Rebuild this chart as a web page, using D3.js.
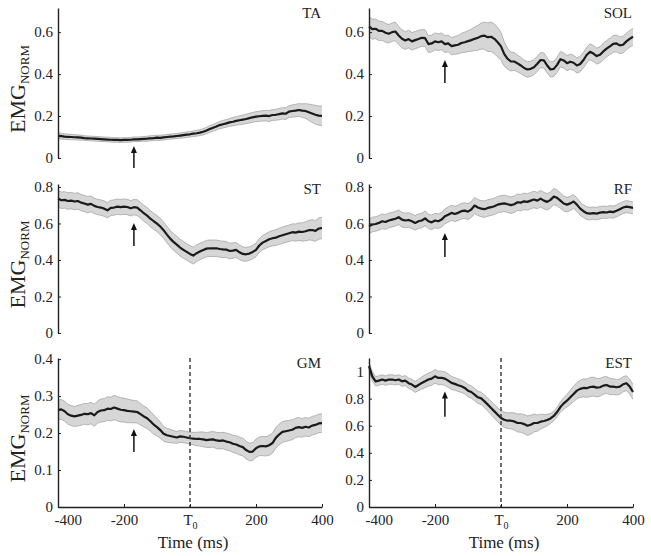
<!DOCTYPE html>
<html><head><meta charset="utf-8">
<script src="https://cdn.jsdelivr.net/npm/d3@7"></script>
<style>
body{margin:0;background:#fff}
svg{display:block}
text{font-family:"Liberation Serif","Times New Roman",serif;fill:#222}
</style>
</head><body><svg id="chart" width="651" height="556"></svg>
<script>
// ---------------- DATA ----------------
const timeMs = [-400,-390,-380,-370,-360,-350,-340,-330,-320,-310,
  -300,-290,-280,-270,-260,-250,-240,-230,-220,-210,
  -200,-190,-180,-170,-160,-150,-140,-130,-120,-110,
  -100,-90,-80,-70,-60,-50,-40,-30,-20,-10,
  0,10,20,30,40,50,60,70,80,90,
  100,110,120,130,140,150,160,170,180,190,
  200,210,220,230,240,250,260,270,280,290,
  300,310,320,330,340,350,360,370,380,390,400];

const muscles = ["TA","SOL","ST","RF","GM","EST"];

const taMean = [0.105,0.104,0.102,0.101,0.100,0.099,0.098,0.097,0.095,0.094,
  0.093,0.092,0.091,0.090,0.089,0.088,0.087,0.086,0.086,0.085,
  0.086,0.086,0.087,0.089,0.089,0.090,0.091,0.092,0.094,0.095,
  0.097,0.096,0.098,0.100,0.102,0.103,0.105,0.107,0.109,0.111,
  0.113,0.116,0.118,0.121,0.125,0.131,0.138,0.144,0.150,0.157,
  0.161,0.165,0.170,0.173,0.177,0.180,0.183,0.186,0.190,0.194,
  0.197,0.199,0.201,0.202,0.200,0.205,0.206,0.209,0.213,0.211,
  0.221,0.224,0.226,0.229,0.226,0.224,0.218,0.212,0.206,0.202,0.201];
const taErr = [0.014,0.014,0.013,0.013,0.013,0.012,0.012,0.012,0.011,0.011,
  0.011,0.011,0.011,0.011,0.011,0.011,0.011,0.011,0.011,0.011,
  0.011,0.011,0.011,0.011,0.011,0.011,0.011,0.012,0.012,0.012,
  0.012,0.012,0.012,0.012,0.012,0.012,0.012,0.012,0.013,0.013,
  0.013,0.013,0.014,0.014,0.015,0.015,0.016,0.016,0.017,0.017,
  0.018,0.018,0.019,0.020,0.020,0.021,0.022,0.022,0.023,0.023,
  0.024,0.024,0.025,0.025,0.026,0.026,0.026,0.027,0.027,0.028,
  0.028,0.029,0.030,0.030,0.032,0.035,0.039,0.042,0.045,0.046,0.046];

const solMean = [0.627,0.614,0.616,0.606,0.606,0.597,0.592,0.600,0.603,0.584,
  0.568,0.560,0.567,0.556,0.562,0.567,0.573,0.571,0.543,0.546,
  0.556,0.552,0.556,0.543,0.546,0.533,0.537,0.540,0.548,0.552,
  0.557,0.562,0.568,0.573,0.581,0.583,0.576,0.578,0.568,0.552,
  0.532,0.495,0.473,0.460,0.460,0.451,0.441,0.429,0.422,0.425,
  0.433,0.449,0.467,0.465,0.441,0.422,0.425,0.444,0.471,0.465,
  0.452,0.459,0.454,0.441,0.448,0.467,0.492,0.506,0.498,0.486,
  0.492,0.508,0.521,0.532,0.544,0.546,0.537,0.540,0.556,0.568,0.578];
const solErr = [0.048,0.048,0.047,0.046,0.045,0.045,0.044,0.044,0.044,0.043,
  0.043,0.042,0.042,0.042,0.041,0.041,0.040,0.040,0.040,0.040,
  0.040,0.040,0.040,0.040,0.040,0.041,0.042,0.044,0.046,0.048,
  0.050,0.053,0.056,0.059,0.062,0.065,0.068,0.070,0.071,0.070,
  0.066,0.058,0.050,0.045,0.042,0.040,0.039,0.038,0.037,0.036,
  0.036,0.036,0.036,0.036,0.036,0.036,0.036,0.036,0.036,0.036,
  0.036,0.036,0.036,0.036,0.037,0.037,0.037,0.038,0.038,0.038,
  0.038,0.039,0.039,0.039,0.040,0.040,0.040,0.040,0.040,0.040,0.040];

const stMean = [0.736,0.727,0.729,0.723,0.725,0.720,0.723,0.714,0.709,0.703,
  0.707,0.696,0.690,0.687,0.681,0.672,0.685,0.687,0.692,0.689,
  0.692,0.690,0.683,0.689,0.687,0.672,0.656,0.643,0.626,0.612,
  0.599,0.583,0.563,0.539,0.517,0.499,0.484,0.468,0.455,0.444,
  0.433,0.424,0.437,0.446,0.455,0.462,0.464,0.464,0.464,0.460,
  0.458,0.457,0.449,0.451,0.455,0.442,0.433,0.431,0.435,0.444,
  0.455,0.479,0.495,0.504,0.513,0.519,0.522,0.530,0.535,0.541,
  0.546,0.552,0.550,0.555,0.553,0.557,0.563,0.564,0.559,0.572,0.575];
const stErr = [0.045,0.045,0.045,0.045,0.045,0.045,0.045,0.045,0.045,0.045,
  0.043,0.042,0.042,0.042,0.042,0.042,0.042,0.042,0.042,0.042,
  0.042,0.042,0.042,0.042,0.043,0.043,0.044,0.044,0.044,0.044,
  0.044,0.045,0.045,0.045,0.045,0.046,0.046,0.046,0.046,0.046,
  0.046,0.046,0.046,0.045,0.045,0.045,0.045,0.045,0.045,0.045,
  0.045,0.044,0.043,0.042,0.041,0.040,0.039,0.038,0.037,0.037,
  0.037,0.038,0.039,0.040,0.041,0.042,0.043,0.044,0.045,0.045,
  0.045,0.046,0.047,0.048,0.050,0.052,0.054,0.056,0.057,0.058,0.058];

const rfMean = [0.584,0.594,0.597,0.603,0.612,0.608,0.616,0.621,0.626,0.634,
  0.621,0.616,0.619,0.612,0.603,0.612,0.616,0.628,0.612,0.606,
  0.616,0.612,0.621,0.639,0.648,0.658,0.652,0.658,0.667,0.670,
  0.665,0.676,0.698,0.687,0.681,0.678,0.685,0.689,0.694,0.703,
  0.707,0.710,0.705,0.700,0.705,0.716,0.714,0.721,0.718,0.725,
  0.731,0.725,0.736,0.725,0.718,0.729,0.747,0.740,0.725,0.709,
  0.703,0.710,0.720,0.703,0.681,0.667,0.656,0.654,0.656,0.654,
  0.659,0.662,0.660,0.665,0.662,0.669,0.678,0.687,0.692,0.689,0.685];
const rfErr = [0.040,0.040,0.040,0.040,0.040,0.040,0.040,0.040,0.040,0.040,
  0.040,0.040,0.040,0.040,0.040,0.040,0.040,0.040,0.040,0.040,
  0.040,0.040,0.040,0.041,0.041,0.042,0.042,0.042,0.043,0.043,
  0.043,0.044,0.044,0.044,0.044,0.045,0.045,0.045,0.045,0.045,
  0.045,0.045,0.045,0.045,0.045,0.045,0.045,0.045,0.045,0.045,
  0.045,0.045,0.045,0.045,0.045,0.044,0.044,0.043,0.042,0.041,
  0.040,0.039,0.038,0.037,0.036,0.035,0.035,0.034,0.034,0.034,
  0.034,0.033,0.033,0.033,0.033,0.033,0.033,0.033,0.033,0.033,0.033];

const gmMean = [0.262,0.264,0.259,0.251,0.247,0.245,0.247,0.249,0.252,0.251,
  0.254,0.248,0.257,0.261,0.262,0.266,0.265,0.269,0.266,0.263,
  0.262,0.260,0.259,0.258,0.257,0.251,0.245,0.240,0.232,0.223,
  0.216,0.208,0.198,0.194,0.192,0.190,0.188,0.191,0.190,0.188,
  0.186,0.185,0.184,0.184,0.183,0.181,0.182,0.183,0.180,0.179,
  0.180,0.177,0.175,0.171,0.169,0.165,0.162,0.154,0.149,0.150,
  0.159,0.164,0.165,0.164,0.167,0.173,0.187,0.196,0.203,0.205,
  0.207,0.209,0.214,0.216,0.214,0.217,0.215,0.220,0.222,0.226,0.227];
const gmErr = [0.027,0.027,0.027,0.027,0.027,0.027,0.028,0.028,0.028,0.029,
  0.029,0.030,0.030,0.031,0.031,0.032,0.032,0.033,0.033,0.033,
  0.032,0.032,0.031,0.030,0.030,0.029,0.028,0.028,0.027,0.026,
  0.024,0.022,0.020,0.019,0.018,0.017,0.016,0.016,0.016,0.016,
  0.016,0.017,0.018,0.019,0.020,0.020,0.021,0.021,0.022,0.022,
  0.022,0.023,0.023,0.023,0.024,0.024,0.024,0.024,0.024,0.024,
  0.025,0.025,0.026,0.026,0.027,0.027,0.028,0.028,0.028,0.028,
  0.027,0.027,0.026,0.026,0.025,0.025,0.025,0.025,0.025,0.025,0.025];

const estMean = [1.040,0.965,0.928,0.933,0.941,0.933,0.941,0.941,0.936,0.941,
  0.928,0.933,0.914,0.904,0.886,0.901,0.916,0.928,0.941,0.948,
  0.965,0.953,0.953,0.948,0.933,0.916,0.909,0.899,0.891,0.879,
  0.859,0.849,0.830,0.810,0.802,0.780,0.756,0.731,0.706,0.681,
  0.657,0.644,0.637,0.637,0.632,0.620,0.620,0.612,0.600,0.607,
  0.620,0.620,0.630,0.635,0.642,0.654,0.672,0.701,0.738,0.765,
  0.785,0.810,0.835,0.859,0.872,0.879,0.877,0.886,0.889,0.881,
  0.884,0.896,0.901,0.889,0.889,0.884,0.889,0.906,0.914,0.889,0.849];
const estErr = [0.030,0.034,0.035,0.035,0.035,0.035,0.035,0.035,0.035,0.035,
  0.036,0.037,0.038,0.039,0.040,0.042,0.045,0.047,0.048,0.050,
  0.050,0.050,0.050,0.050,0.050,0.048,0.047,0.046,0.045,0.045,
  0.045,0.045,0.045,0.045,0.046,0.047,0.048,0.049,0.050,0.052,
  0.054,0.056,0.058,0.060,0.063,0.066,0.068,0.070,0.072,0.070,
  0.066,0.060,0.055,0.048,0.042,0.037,0.035,0.035,0.038,0.042,
  0.047,0.052,0.057,0.060,0.063,0.066,0.068,0.070,0.070,0.068,
  0.066,0.064,0.062,0.060,0.058,0.057,0.056,0.056,0.055,0.055,0.055];

const yTicksTop = [0, 0.2, 0.4, 0.6];
const yTicksMid = [0, 0.2, 0.4, 0.6, 0.8];
const yTicksGM = [0, 0.1, 0.2, 0.3, 0.4];
const yTicksEST = [0, 0.2, 0.4, 0.6, 0.8, 1];
const xTicks = [-400, -200, 0, 200, 400];
const xTickLabels = ["-400", "-200", "T0", "200", "400"];
const yLabel = ["EMG", "NORM"];
const xLabel = "Time (ms)";
const arrowTime = -170;

// ---------------- LAYOUT ----------------
const svg = d3.select("#chart");
const cols = [{x0: 58, x1: 322}, {x0: 369, x1: 633}];
const rows = [{bottom: 158, top: 8}, {bottom: 333, top: 184}, {bottom: 507, top: 358}];

const panels = [
  {name: muscles[0], mean: taMean, err: taErr, col: 0, row: 0, ymax: 0.715, ticks: yTicksTop, arrow: [-0.048, 0.057]},
  {name: muscles[1], mean: solMean, err: solErr, col: 1, row: 0, ymax: 0.715, ticks: yTicksTop, arrow: [0.357, 0.467]},
  {name: muscles[2], mean: stMean, err: stErr, col: 0, row: 1, ymax: 0.816, ticks: yTicksMid, arrow: [0.477, 0.603]},
  {name: muscles[3], mean: rfMean, err: rfErr, col: 1, row: 1, ymax: 0.816, ticks: yTicksMid, arrow: [0.416, 0.548]},
  {name: muscles[4], mean: gmMean, err: gmErr, col: 0, row: 2, ymax: 0.403, ticks: yTicksGM, arrow: [0.149, 0.211]},
  {name: muscles[5], mean: estMean, err: estErr, col: 1, row: 2, ymax: 1.1, ticks: yTicksEST, arrow: [0.667, 0.852]}
];

const fmt = v => v === 0 ? "0" : String(v);

panels.forEach(p => {
  const c = cols[p.col], r = rows[p.row];
  const x = d3.scaleLinear().domain([-400, 400]).range([c.x0, c.x1]);
  const y = d3.scaleLinear().domain([0, p.ymax]).range([r.bottom, r.top]);
  const g = svg.append("g");
  const data = timeMs.map((t, i) => ({t, m: p.mean[i], e: p.err[i]}));

  // band
  g.append("path").datum(data)
    .attr("d", d3.area().x(d => x(d.t)).y0(d => y(d.m - d.e)).y1(d => y(d.m + d.e)))
    .attr("fill", "#d6d6d6").attr("stroke", "none");
  g.append("path").datum(data)
    .attr("d", d3.line().x(d => x(d.t)).y(d => y(d.m + d.e)))
    .attr("fill", "none").attr("stroke", "#a6a6a6").attr("stroke-width", 0.8);
  g.append("path").datum(data)
    .attr("d", d3.line().x(d => x(d.t)).y(d => y(d.m - d.e)))
    .attr("fill", "none").attr("stroke", "#a6a6a6").attr("stroke-width", 0.8);
  // mean
  g.append("path").datum(data)
    .attr("d", d3.line().x(d => x(d.t)).y(d => y(d.m)))
    .attr("fill", "none").attr("stroke", "#1a1a1a").attr("stroke-width", 2.2)
    .attr("stroke-linejoin", "round");

  // dashed T0 line (bottom row)
  if (p.row === 2) {
    g.append("line")
      .attr("x1", x(0)).attr("x2", x(0))
      .attr("y1", r.top).attr("y2", r.bottom)
      .attr("stroke", "#333").attr("stroke-width", 1.4)
      .attr("stroke-dasharray", "4,3");
  }

  // y axis
  const ya = g.append("g").attr("transform", `translate(${c.x0},0)`)
    .call(d3.axisLeft(y).tickValues(p.ticks).tickFormat(fmt)
      .tickSizeInner(-3).tickSizeOuter(0).tickPadding(5));
  ya.select(".domain").attr("stroke", "#222").attr("stroke-width", 1.4);
  ya.selectAll(".tick line").attr("stroke", "#222").attr("stroke-width", 1);
  ya.selectAll("text").attr("font-size", 15).attr("font-family", "Liberation Serif").attr("fill", "#222");

  // x axis (bottom row)
  if (p.row === 2) {
    const xa = g.append("g").attr("transform", `translate(0,${r.bottom})`)
      .call(d3.axisBottom(x).tickValues(xTicks).tickFormat((d, i) => xTickLabels[i])
        .tickSizeInner(-3).tickSizeOuter(0).tickPadding(7));
    xa.select(".domain").attr("stroke", "#222").attr("stroke-width", 1.4);
    xa.selectAll(".tick line").attr("stroke", "#222").attr("stroke-width", 1);
    xa.selectAll("text").attr("font-size", 15).attr("font-family", "Liberation Serif").attr("fill", "#222");
    xa.selectAll(".tick text").each(function(d, i) {
      const s = d3.select(this);
      if (xTickLabels[i] === "T0") {
        s.text(null);
        s.append("tspan").text("T");
        s.append("tspan").text("0").attr("font-size", 10).attr("dy", 4);
      }
      if (i === 0) s.attr("text-anchor", "start").attr("x", -4);
    });
    g.append("text")
      .attr("x", (c.x0 + c.x1) / 2 + 3).attr("y", 548)
      .attr("text-anchor", "middle").attr("font-size", 17)
      .text(xLabel);
  }

  // title
  g.append("text").attr("x", c.x1 - 1).attr("y", r.top + 10)
    .attr("text-anchor", "end").attr("font-size", 15).text(p.name);

  // arrow
  const ax = x(arrowTime), yTail = y(p.arrow[0]), yTip = y(p.arrow[1]);
  g.append("line").attr("x1", ax).attr("x2", ax)
    .attr("y1", yTail).attr("y2", yTip + 5)
    .attr("stroke", "#111").attr("stroke-width", 1.5);
  g.append("path")
    .attr("d", `M${ax},${yTip} L${ax - 3},${yTip + 7} L${ax + 3},${yTip + 7} Z`)
    .attr("fill", "#111");

  // y label (left column)
  if (p.col === 0) {
    const cy = (r.top + r.bottom) / 2 + 6;
    const t = g.append("text")
      .attr("transform", `translate(25,${cy}) rotate(-90)`)
      .attr("text-anchor", "middle");
    t.append("tspan").text(yLabel[0]).attr("font-size", 22);
    t.append("tspan").text(yLabel[1]).attr("font-size", 13).attr("dy", 4);
  }
});
</script>
</body></html>
